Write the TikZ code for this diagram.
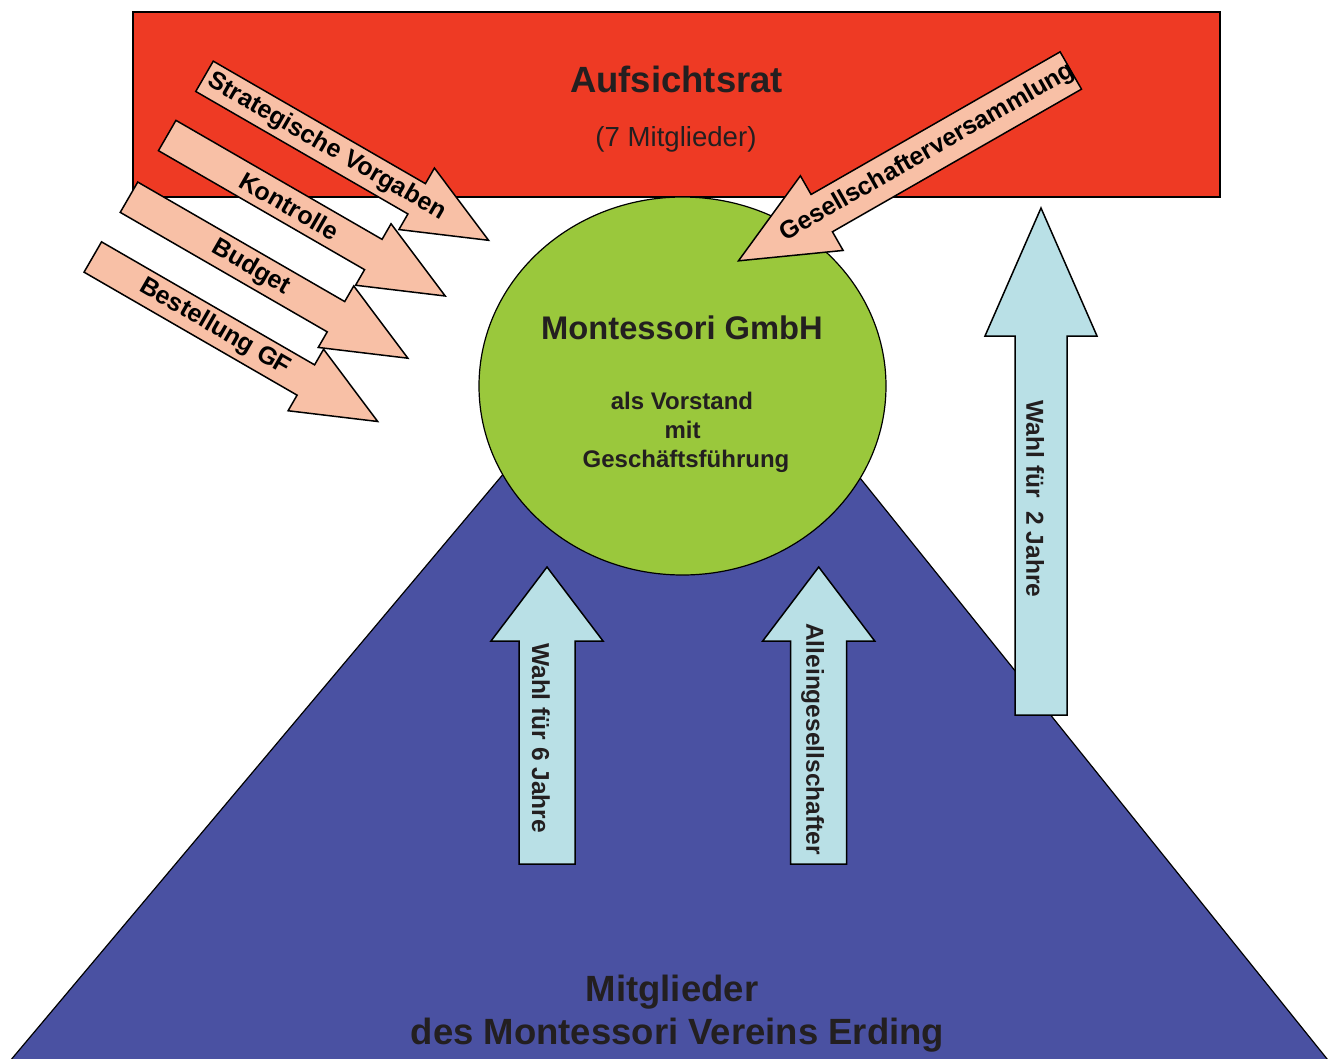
\documentclass[tikz,border=0pt]{standalone}
\usepackage{fontspec}
\setmainfont{Liberation Sans}
\usetikzlibrary{shapes.geometric}
\definecolor{ratred}{HTML}{EE3A24}
\definecolor{triblue}{HTML}{4A51A2}
\definecolor{gmbhgreen}{HTML}{9AC83C}
\definecolor{arrowpink}{HTML}{F8C0A6}
\definecolor{arrowblue}{HTML}{B9E0E6}
\definecolor{txtdark}{HTML}{231F20}
\tikzset{
  pinkarrow/.style={draw=black, line width=1.5pt, fill=arrowpink, line join=miter},
  bluearrow/.style={draw=black, line width=1.5pt, fill=arrowblue, line join=miter},
  pinktext/.style={font=\bfseries\fontsize{25}{30}\selectfont, text=black, inner sep=0pt},
  bluetext/.style={font=\bfseries\fontsize{24.5}{29}\selectfont, text=txtdark, inner sep=0pt},
  bigtitle/.style={font=\bfseries\fontsize{36.5}{42}\selectfont, text=txtdark, inner sep=0pt, anchor=base},
  gmbhtitle/.style={font=\bfseries\fontsize{32.7}{38}\selectfont, text=txtdark, inner sep=0pt, anchor=base},
  gmbhsub/.style={font=\bfseries\fontsize{24}{29}\selectfont, text=txtdark, inner sep=0pt, anchor=base},
}
% #1 style, #2 tail centre, #3 angle, #4 length, #5 shaft width,
% #6 head width, #7 head length, #8 text position (local), #9 node
\newcommand\fatarrow[9]{%
  \begin{scope}[shift={#2}, rotate=#3]
    \path[#1] (0,{-(#5)/2}) -- ({#4-#7},{-(#5)/2}) -- ({#4-#7},{-(#6)/2})
      -- (#4,0) -- ({#4-#7},{(#6)/2}) -- ({#4-#7},{(#5)/2}) -- (0,{(#5)/2}) -- cycle;
    \path #8 #9;
  \end{scope}}
\begin{document}
\begin{tikzpicture}[x=1pt,y=1pt]
\useasboundingbox (0,0) rectangle (1331,-1058);
% pyramid of members
\begin{scope}
  \clip (0,0) rectangle (1331,-1058);
  \path[draw=black, line width=1.2pt, fill=triblue] (-6,-1080) -- (684,-259) -- (1344,-1080) -- cycle;
\end{scope}
% Aufsichtsrat
\node[rectangle, draw=black, line width=1.5pt, fill=ratred, minimum width=1087pt, minimum height=185pt, inner sep=0pt] (rat) at (676.5,-104.5) {};
\node[bigtitle] (ratname) at (676.5,-92) {Aufsichtsrat};
\node[font=\fontsize{27.6}{32}\selectfont, text=txtdark, inner sep=0pt, anchor=base] (ratnum) at (676,-146) {(7 Mitglieder)};
% GmbH
\node[ellipse, draw=black, line width=1.2pt, fill=gmbhgreen, minimum width=407pt, minimum height=378pt, inner sep=0pt] (gmbh) at (682.5,-386) {};
\node[gmbhtitle] (gmbhname) at (682,-339) {Montessori GmbH};
\node[gmbhsub] (gmbh1) at (682,-409) {als Vorstand};
\node[gmbhsub] (gmbh2) at (682.5,-438) {mit};
\node[gmbhsub] (gmbh3) at (686,-467) {Geschäftsführung};
% members text
\node[bigtitle] (mitgl1) at (672,-1001) {Mitglieder};
\node[bigtitle] (mitgl2) at (677.5,-1044) {des Montessori Vereins Erding};
% pink arrows
\fatarrow{pinkarrow}{(204.5,-76.3)}{-30}{328}{35}{71}{83}{(141,0)}{node[pinktext, rotate=-30] (strat) {Strategische Vorgaben}}
\fatarrow{pinkarrow}{(167.2,-135.5)}{-30}{321}{35}{71}{83}{(141,0)}{node[pinktext, rotate=-30] (kontr) {Kontrolle}}
\fatarrow{pinkarrow}{(129,-197.2)}{-30}{322}{35}{71}{83}{(141,0)}{node[pinktext, rotate=-30] (budget) {Budget}}
\fatarrow{pinkarrow}{(92.8,-257)}{-30}{329}{35}{71}{83}{(141,0)}{node[pinktext, rotate=-30] (bestgf) {Bestellung GF}}
\fatarrow{pinkarrow}{(1070.8,-70.5)}{209.8}{383}{43}{86}{96}{(165,0)}{node[pinktext, rotate=29.8] (gesv) {Gesellschafterversammlung}}
% blue arrows
\fatarrow{bluearrow}{(547,-864)}{90}{297}{56}{112}{74}{(126,6)}{node[bluetext, rotate=-90] (wahl6) {Wahl für 6 Jahre}}
\fatarrow{bluearrow}{(818.7,-864)}{90}{297}{56}{112}{74}{(125,6)}{node[bluetext, rotate=-90] (allein) {Alleingesellschafter}}
\fatarrow{bluearrow}{(1041,-715)}{90}{507}{52}{112}{128}{(216,6)}{node[bluetext, rotate=-90] (wahl2) {Wahl für\ \ 2 Jahre}}
\end{tikzpicture}
\end{document}
